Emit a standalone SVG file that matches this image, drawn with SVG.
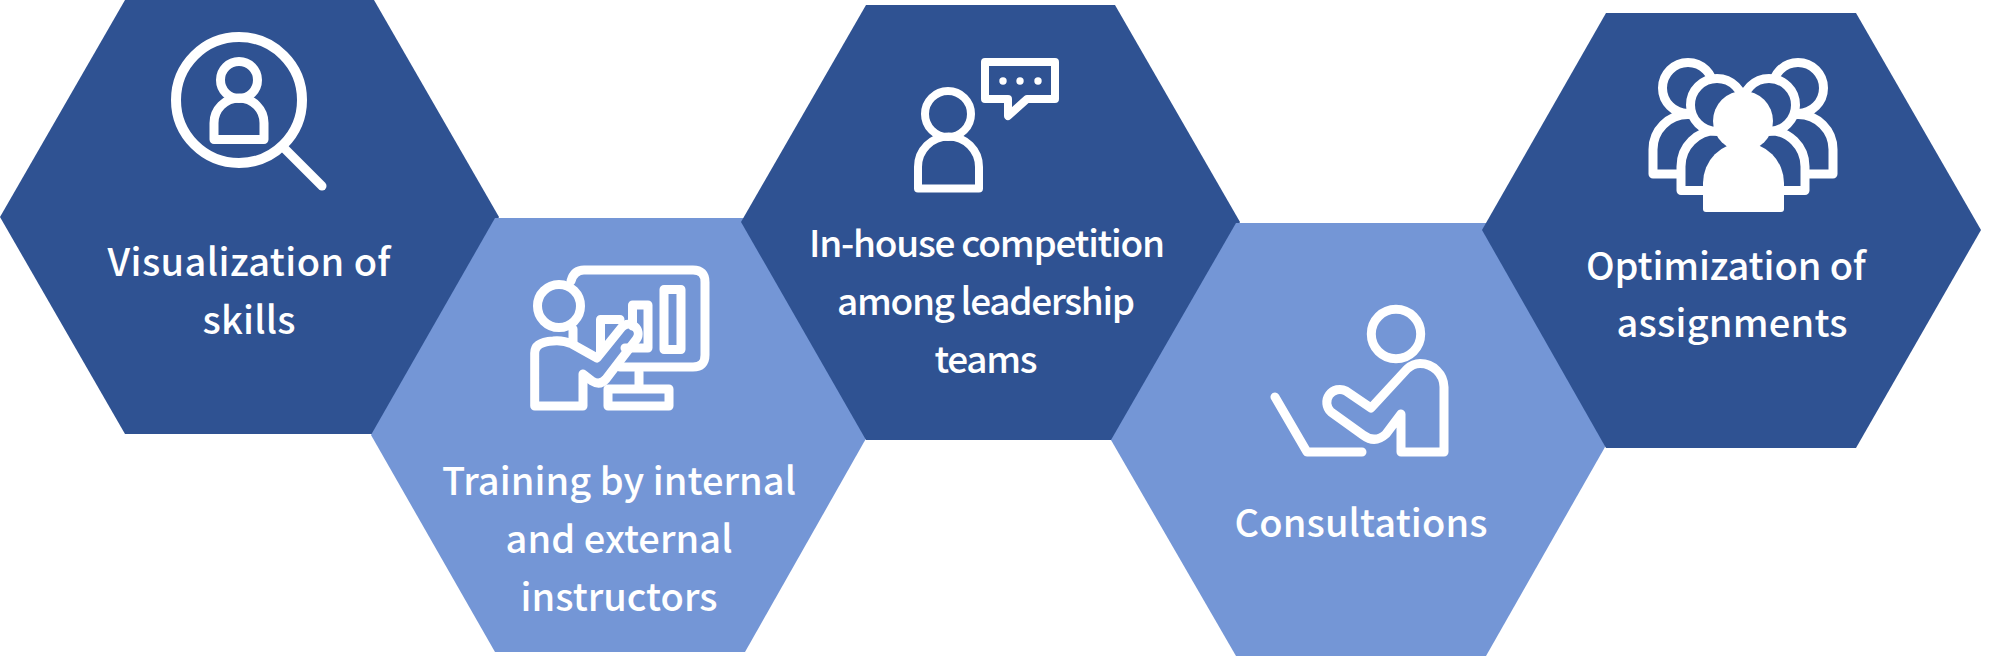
<svg xmlns="http://www.w3.org/2000/svg" width="2000" height="657" viewBox="0 0 2000 657">
<style>
.dark{fill:#2F5292}
.light{fill:#7496D6}
.ln{fill:none;stroke:#fff;stroke-width:9;stroke-linejoin:round;stroke-linecap:round}
.d{fill:#2F5292;stroke:#fff;stroke-width:9;stroke-linejoin:round;stroke-linecap:round}
.s10{stroke-width:10}
.s8{stroke-width:8}
.w{fill:#fff}
text{fill:#fff;font-family:"Noto Sans CJK JP","Noto Sans",sans-serif;font-weight:500;font-size:38px;text-anchor:middle}
.tight{font-size:37px}
</style>
<rect width="2000" height="657" fill="#fff"/>
<g id="node-visualization">
<polygon class="dark" points="0,217 125,0 374,0 499,217 374,434 125,434"/>
<circle class="ln s10" cx="239" cy="100" r="63"/>
<path class="ln" d="M284 148L322 186"/>
<circle class="ln" cx="239" cy="80" r="18.500"/>
<path class="ln" d="M214 139.500V123a25 25 0 0 1 50 0V139.500Z"/>
<text x="249" y="276" textLength="283">Visualization of</text>
<text x="249" y="334" textLength="93">skills</text>
</g>
<g id="node-training">
<polygon class="light" points="371,435 495,218 745,218 868,435 745,652 495,652"/>
<circle class="ln" cx="559" cy="306" r="21.500"/>
<path class="ln" d="M571 281Q574 270 584 270H693Q705 270 705 282V355Q705 367 693 367H620"/>
<path class="ln" d="M573 329V343"/>
<path class="ln" d="M664 289.500H681V349.500H664Z"/>
<path class="ln" d="M632.500 326V305H648V348H625"/>
<path class="ln" d="M600.500 352V319.500H620"/>
<path class="ln" d="M534.700 406V353Q534.700 342 553 341Q563 340 572 344L597 358L622 327A9.500 9.500 0 0 1 636.600 339L606 379Q600 386 592 381L583 374V406Z"/>
<path class="ln" d="M639 372V386"/>
<path class="ln" d="M608 389H669V406H608Z"/>
<text x="619" y="495" textLength="354">Training by internal</text>
<text x="619" y="553" textLength="227">and external</text>
<text x="619" y="611" textLength="197">instructors</text>
</g>
<g id="node-competition">
<polygon class="dark" points="741,222 866,5 1115,5 1240,222 1115,440 866,440"/>
<circle class="ln s8" cx="948" cy="114" r="23"/>
<path class="ln s8" d="M918 188.500V167a30.500 30.500 0 0 1 61 0V188.500Z"/>
<path class="ln s8" d="M985 62H1055V99H1027L1008 116V99H985Z"/>
<circle class="w" cx="1003" cy="81" r="3.700"/>
<circle class="w" cx="1020" cy="81" r="3.700"/>
<circle class="w" cx="1038" cy="81" r="3.700"/>
<text class="tight" x="987" y="257" textLength="356">In-house competition</text>
<text class="tight" x="986" y="315" textLength="298">among leadership</text>
<text class="tight" x="986" y="373" textLength="103">teams</text>
</g>
<g id="node-consultations">
<polygon class="light" points="1111,440 1236,223 1486,223 1609,440 1486,656 1236,656"/>
<circle class="ln" cx="1396" cy="334" r="24.700"/>
<path class="ln" d="M1401 414V452H1444V387A24 24 0 0 0 1420 363.500Q1413 363.500 1407 369L1371 408L1346 391A13 13 0 0 0 1331 412L1363 435Q1375 444 1386 434Z"/>
<path class="ln" d="M1275 397L1307 452H1362"/>
<text x="1361" y="537" textLength="253">Consultations</text>
</g>
<g id="node-optimization">
<polygon class="dark" points="1482,230 1606,13 1856,13 1981,230 1856,448 1606,448"/>
<path class="d" d="M1653 174V149.500a35 35 0 0 1 70 0V174Z"/>
<path class="d" d="M1763 174V149.500a35 35 0 0 1 70 0V174Z"/>
<circle class="d" cx="1688" cy="88" r="25.500"/>
<circle class="d" cx="1798" cy="88" r="25.500"/>
<path class="d" d="M1681 190.500V166.500a36 36 0 0 1 72 0V190.500Z"/>
<path class="d" d="M1733 190.500V166.500a36 36 0 0 1 72 0V190.500Z"/>
<circle class="d" cx="1717" cy="105" r="26.500"/>
<circle class="d" cx="1769" cy="105" r="26.500"/>
<circle class="w" cx="1743" cy="121" r="30"/>
<path class="w" d="M1703 209V183a40.500 40.500 0 0 1 81 0V209Q1784 212 1781 212H1706Q1703 212 1703 209Z"/>
<text x="1726" y="280" textLength="280">Optimization of</text>
<text x="1732" y="337" textLength="231">assignments</text>
</g>
</svg>
